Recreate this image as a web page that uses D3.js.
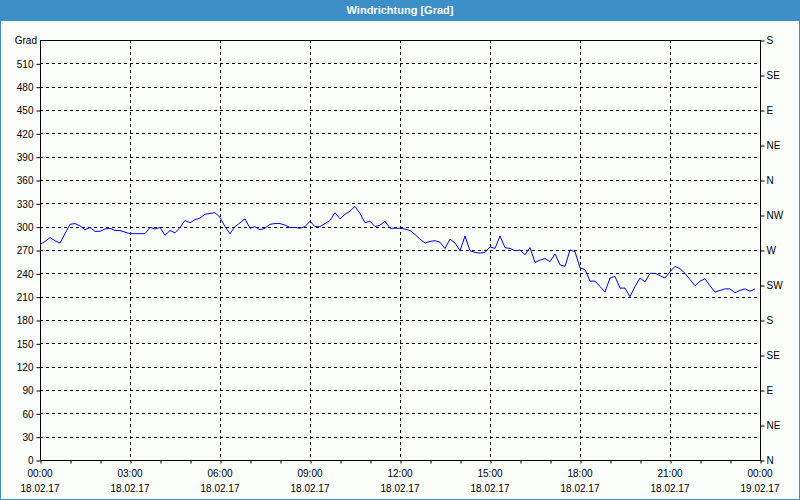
<!DOCTYPE html>
<html><head><meta charset="utf-8">
<script src="https://cdn.jsdelivr.net/npm/d3@7"></script>
<style>
html,body{margin:0;padding:0;background:#fff;}
svg{display:block;font-family:"Liberation Sans",Arial,sans-serif;}
</style></head>
<body>
<svg id="chart" width="800" height="500"></svg>
<script>
const title = "Windrichtung [Grad]";
const yUnit = "Grad";
// minutes after 18.02.17 00:00
const minutes = [0,10,20,30,40,60,70,80,90,100,110,120,130,140,150,160,170,180,190,200,210,220,230,240,250,260,270,280,290,300,310,320,330,340,350,360,370,380,390,400,410,420,430,440,450,460,470,480,490,500,510,520,530,540,550,560,570,580,590,600,610,620,630,640,650,660,670,680,690,700,710,720,730,740,750,760,770,780,790,800,810,820,830,840,850,860,870,880,890,900,910,920,930,940,950,960,970,980,990,1000,1010,1020,1030,1040,1050,1060,1070,1080,1090,1100,1110,1120,1130,1140,1150,1160,1170,1180,1190,1200,1210,1220,1230,1240,1250,1260,1270,1280,1290,1300,1310,1320,1330,1340,1350,1360,1370,1380,1390,1400,1410,1420,1430];
const direction = [277,281,286,282,279,303,304,301,296,299,294,294,297,298,295,295,293,291,291,291,291,299,297,299,289,295,292,299,308,305,309,311,316,317,318,312,300,291,300,305,310,298,300,296,298,303,304,304,302,299,299,298,300,307,300,300,304,308,318,310,316,320,326,317,305,307,300,302,307,298,298,298,297,295,290,284,279,281,282,280,272,284,279,269,288,269,267,266,267,274,272,288,273,272,269,270,264,273,254,257,259,255,265,251,249,270,268,247,245,230,230,223,216,234,236,221,221,210,223,234,229,240,240,237,234,242,249,246,240,232,224,230,233,224,216,218,220,220,215,218,220,217,220];
const yTicks = [0,30,60,90,120,150,180,210,240,270,300,330,360,390,420,450,480,510];
const compassTicks = [0,45,90,135,180,225,270,315,360,405,450,495,540];
const compassLabels = ["N","NE","E","SE","S","SW","W","NW","N","NE","E","SE","S"];
const xMajorHours = [0,3,6,9,12,15,18,21,24];
const xTimeLabels = ["00:00","03:00","06:00","09:00","12:00","15:00","18:00","21:00","00:00"];
const xDateLabels = ["18.02.17","18.02.17","18.02.17","18.02.17","18.02.17","18.02.17","18.02.17","18.02.17","19.02.17"];
const xMinorHours = d3.range(0,25);

const W = 800, H = 500;
const m = {left:40, right:760, top:40, bottom:460};
const svg = d3.select("#chart");
const blue = "#3d8fc7";

svg.append("rect").attr("x",0).attr("y",0).attr("width",W).attr("height",H).attr("fill","#fbfdfb");
svg.append("rect").attr("x",0.5).attr("y",0.5).attr("width",W-1).attr("height",H-1).attr("fill","none").attr("stroke",blue).attr("stroke-width",1);
svg.append("rect").attr("x",0).attr("y",0).attr("width",W).attr("height",21).attr("fill",blue);
svg.append("text").attr("x",W/2).attr("y",14).attr("text-anchor","middle").attr("fill","#fff")
  .attr("font-weight","bold").attr("font-size","11px").text(title);

const x = d3.scaleLinear().domain([0,24*60]).range([m.left,m.right]);
const y = d3.scaleLinear().domain([0,540]).range([m.bottom,m.top]);

// grid
const g = svg.append("g");
g.selectAll(".hg").data(yTicks.filter(d=>d>0)).join("line")
  .attr("x1",m.left).attr("x2",m.right).attr("y1",d=>Math.round(y(d))+0.5).attr("y2",d=>Math.round(y(d))+0.5)
  .attr("stroke","#000").attr("stroke-dasharray","3,3").attr("stroke-width",1);
g.selectAll(".vg").data(xMajorHours.slice(1,-1)).join("line")
  .attr("y1",m.top).attr("y2",m.bottom).attr("x1",d=>Math.round(x(d*60))+0.5).attr("x2",d=>Math.round(x(d*60))+0.5)
  .attr("stroke","#000").attr("stroke-dasharray","3,3").attr("stroke-width",1);

// data line
const line = d3.line().x((d,i)=>x(minutes[i])).y(d=>y(d));
svg.append("path").datum(direction).attr("d",line).attr("fill","none").attr("stroke","#0000ff").attr("stroke-width",1);

// left axis
const la = svg.append("g").attr("transform",`translate(${m.left+0.5},0.5)`)
  .call(d3.axisLeft(y).tickValues(yTicks).tickSize(4).tickPadding(3).tickFormat(d3.format("d")));
la.select(".domain").attr("d",`M0,${m.top}V${m.bottom}`);
la.selectAll("text").attr("font-size","10px").attr("fill","#000").attr("font-family","Liberation Sans, Arial, sans-serif");
svg.append("text").attr("x",37).attr("y",y(540)+4).attr("text-anchor","end").attr("font-size","10px").text(yUnit);

// right axis
const ra = svg.append("g").attr("transform",`translate(${m.right+0.5},0.5)`)
  .call(d3.axisRight(y).tickValues(compassTicks).tickSize(4).tickPadding(2).tickFormat((d,i)=>compassLabels[i]));
ra.select(".domain").attr("d",`M0,${m.top}V${m.bottom}`);
ra.selectAll("text").attr("font-size","10px").attr("fill","#000").attr("font-family","Liberation Sans, Arial, sans-serif");

// top frame
svg.append("line").attr("x1",m.left).attr("x2",m.right+1).attr("y1",m.top+0.5).attr("y2",m.top+0.5).attr("stroke","#000");

// bottom axis
const ba = svg.append("g").attr("transform",`translate(0.5,${m.bottom+0.5})`)
  .call(d3.axisBottom(x).tickValues(xMinorHours.map(h=>h*60)).tickSize(3).tickFormat(""));
ba.select(".domain").attr("d",`M${m.left},0H${m.right}`);
const lbl = svg.append("g");
lbl.selectAll(".t").data(xMajorHours).join("text")
  .attr("x",d=>x(d*60)).attr("y",477).attr("text-anchor","middle").attr("font-size","10px").text((d,i)=>xTimeLabels[i]);
lbl.selectAll(".d").data(xMajorHours).join("text")
  .attr("x",d=>x(d*60)).attr("y",492).attr("text-anchor","middle").attr("font-size","10px").text((d,i)=>xDateLabels[i]);
</script>
</body></html>
